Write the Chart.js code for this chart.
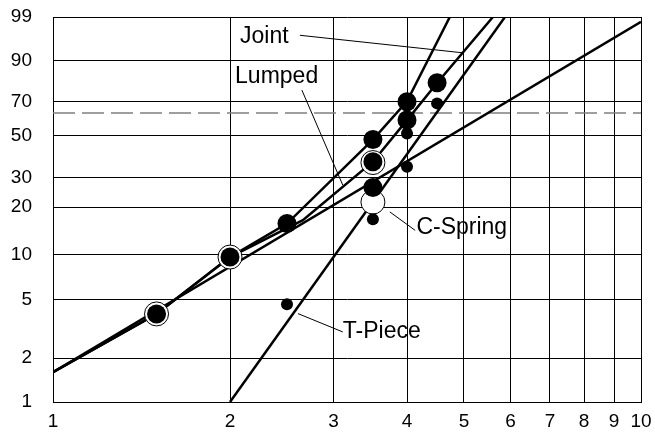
<!DOCTYPE html>
<html>
<head>
<meta charset="utf-8">
<script src="https://cdn.jsdelivr.net/npm/chart.js@4"></script>
<style>
  html, body { margin: 0; padding: 0; background: #fff; }
</style>
</head>
<body>
<canvas id="chart" width="655" height="439"></canvas>
<script>
'use strict';

// Weibull paper: x on log scale, y is ln(-ln(1-F))
const X_TICKS = [1, 2, 3, 4, 5, 6, 7, 8, 9, 10];
const Y_TICKS = [1, 2, 5, 10, 20, 30, 50, 70, 90, 99];
const CHAR_LIFE = 63.2;

// big filled dots
const BIG_X = [1.5, 2, 2.5, 3.5, 3.5, 3.5, 4, 4, 4.5];
const BIG_F = [4.0, 9.6, 15.8, 26.3, 36.9, 48.1, 59.1, 69.7, 80.2];
// small filled dots (T-Piece)
const SMALL_X = [2.5, 3.5, 4, 4, 4.5];
const SMALL_F = [4.65, 16.8, 34.6, 51.4, 68.8];
// open circles (C-Spring)
const OPEN_X = [1.5, 2, 3.5, 3.5];
const OPEN_F = [4.0, 9.6, 36.5, 21.5];

// fitted lines
const SHALLOW_X = [1, 10];
const SHALLOW_F = [1.6, 98.6];
const TPIECE_X = [2, 5.87];
const TPIECE_F = [1, 99];
const UPPER_X = [1, 1.5, 2, 2.5, 3.5, 4, 4.73];
const UPPER_F = [1.6, 4, 9.6, 15.8, 48, 70, 99];
const LUMPED_X = [1, 1.5, 2, 2.66, 3.5, 4, 4.5, 5.6];
const LUMPED_F = [1.6, 4, 9.6, 16.6, 36.9, 59, 80, 99];

// text labels with leader lines [x, F]
const LABELS = [
  { text: 'Joint',    at: [2.08, 96.5], from: [2.63, 96.8], to: [4.98, 92.6] },
  { text: 'Lumped',   at: [2.04, 83.0], from: [2.65, 76.3], to: [3.11, 27.2] },
  { text: 'C-Spring', at: [4.15, 14.8], from: [4.13, 14.3], to: [3.74, 18.7] },
  { text: 'T-Piece',  at: [3.11, 3.02], from: [3.11, 3.02], to: [2.61, 4.02] },
];

const weib = p => Math.log(-Math.log(1 - p / 100));
const pts = (xs, fs) => xs.map((x, i) => ({ x: x, y: weib(fs[i]) }));

const FONT = 'Arial, "Liberation Sans", sans-serif';

const labelPlugin = {
  id: 'labels',
  afterDatasetsDraw(chart) {
    const { ctx, scales: { x, y } } = chart;
    ctx.save();
    ctx.strokeStyle = '#000';
    ctx.lineWidth = 1;
    ctx.fillStyle = '#000';
    ctx.font = '23px ' + FONT;
    ctx.textBaseline = 'middle';
    LABELS.forEach(l => {
      const px = p => [x.getPixelForValue(p[0]), y.getPixelForValue(weib(p[1]))];
      const a = px(l.from), b = px(l.to), t = px(l.at);
      ctx.beginPath();
      ctx.moveTo(a[0], a[1]);
      ctx.lineTo(b[0], b[1]);
      ctx.stroke();
      ctx.fillText(l.text, t[0], t[1]);
    });
    ctx.restore();
  }
};

const lineDs = (xs, fs) => ({
  data: pts(xs, fs), showLine: true, pointRadius: 0,
  borderColor: '#000', borderWidth: 2.5, order: 3
});

new Chart(document.getElementById('chart'), {
  type: 'scatter',
  data: {
    datasets: [
      { data: pts(BIG_X, BIG_F), pointRadius: 9.5, backgroundColor: '#000', borderWidth: 0, order: 0 },
      { data: pts(SMALL_X, SMALL_F), pointRadius: 6, backgroundColor: '#000', borderWidth: 0, order: 0 },
      { data: pts(OPEN_X, OPEN_F), pointRadius: 12, backgroundColor: '#fff', borderColor: '#000', borderWidth: 1, order: 1 },
      lineDs(SHALLOW_X, SHALLOW_F),
      lineDs(TPIECE_X, TPIECE_F),
      lineDs(UPPER_X, UPPER_F),
      lineDs(LUMPED_X, LUMPED_F),
      {
        data: pts([1, 10], [CHAR_LIFE, CHAR_LIFE]), showLine: true, pointRadius: 0,
        borderColor: '#808080', borderWidth: 1.5, borderDash: [22, 7], order: 4
      }
    ]
  },
  options: {
    responsive: false,
    animation: false,
    devicePixelRatio: 1,
    layout: { padding: { top: 17, right: 14, left: 0, bottom: 0 } },
    plugins: { legend: { display: false }, tooltip: { enabled: false } },
    scales: {
      x: {
        type: 'logarithmic', min: 1, max: 10,
        afterBuildTicks: s => { s.ticks = X_TICKS.map(v => ({ value: v })); },
        afterFit: s => { s.height = 37; s.paddingLeft = 0; s.paddingRight = 0; },
        ticks: { callback: v => String(v), color: '#000', font: { family: FONT, size: 19 }, padding: 8, maxRotation: 0, autoSkip: false },
        grid: { color: '#000', lineWidth: 1, drawTicks: false },
        border: { color: '#000' }
      },
      y: {
        type: 'linear', min: weib(1), max: weib(99),
        afterBuildTicks: s => { s.ticks = Y_TICKS.map(p => ({ value: weib(p) })); },
        afterFit: s => { s.width = 53; s.paddingTop = 0; s.paddingBottom = 0; },
        ticks: {
          callback: v => String(Math.round(100 * (1 - Math.exp(-Math.exp(v))))),
          color: '#000', font: { family: FONT, size: 19 }, padding: 21, autoSkip: false
        },
        grid: { color: '#000', lineWidth: 1, drawTicks: false },
        border: { color: '#000' }
      }
    }
  },
  plugins: [labelPlugin]
});
</script>
</body>
</html>
